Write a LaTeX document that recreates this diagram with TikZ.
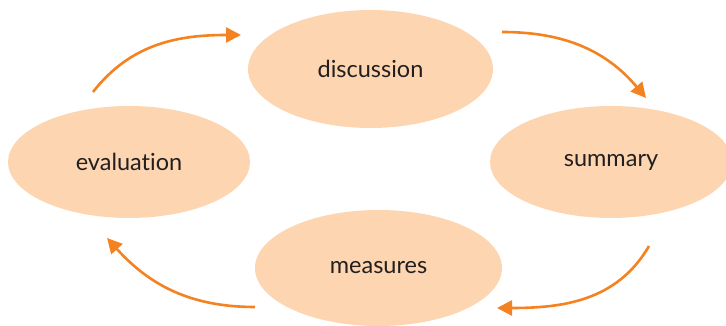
\documentclass[tikz,border=0pt]{standalone}
\usepackage{fontspec}
\setmainfont{Lato}[Ligatures={NoCommon,NoRare}]
\usetikzlibrary{shapes.geometric,arrows.meta}
\definecolor{peach}{HTML}{FDD5B0}
\definecolor{arroworange}{HTML}{F58220}
\definecolor{txt}{HTML}{231F20}
\begin{document}
\begin{tikzpicture}[x=1pt,y=1pt,
  blob/.style={ellipse,fill=peach,draw=none,inner sep=0pt,text=txt,font=\fontsize{23.5}{26}\selectfont},
  cyc/.style={draw=arroworange,line width=2.6pt,-{Triangle[length=15pt,width=15pt]}}]
\clip (0,0) rectangle (726,326);
\useasboundingbox (0,0) rectangle (726,326);
\node[blob,minimum width=245pt,minimum height=118pt] (dis) at (370.5,257) {discussion};
\node[blob,minimum width=242pt,minimum height=112pt] (eva) at (129,164) {evaluation};
\node[blob,minimum width=242pt,minimum height=112pt] (sum) at (611,164) {summary};
\node[blob,minimum width=247pt,minimum height=116pt] (mea) at (378.5,58) {measures};
\coordinate (a1s) at (93,234);
\coordinate (a1e) at (241,291);
\coordinate (a2s) at (502,294);
\coordinate (a2e) at (646,228);
\coordinate (a3s) at (649,80);
\coordinate (a3e) at (497,18);
\coordinate (a4s) at (255,19);
\coordinate (a4e) at (107,88);
\draw[cyc] (a1s) to[out=52,in=180] (a1e);
\draw[cyc] (a2s) to[out=0,in=130] (a2e);
\draw[cyc] (a3s) to[out=-120,in=0] (a3e);
\draw[cyc] (a4s) to[out=180,in=-48] (a4e);
\end{tikzpicture}
\end{document}
